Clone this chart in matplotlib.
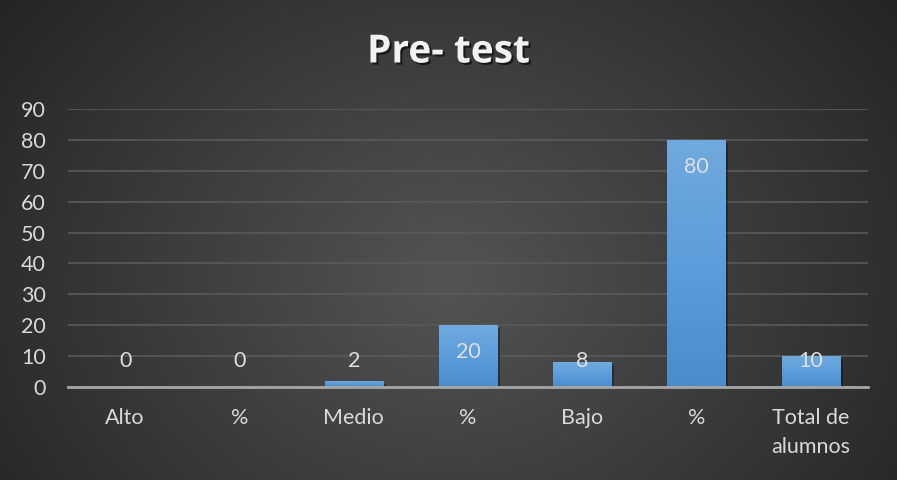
import numpy as np
import matplotlib
matplotlib.use("Agg")
import matplotlib.pyplot as plt
import matplotlib.patheffects as pe
from matplotlib.colors import LinearSegmentedColormap

categories = ["Alto", "%", "Medio", "%", "Bajo", "%", "Total de\nalumnos"]
values = [0, 0, 2, 20, 8, 80, 10]
title = "Pre- test"
yticks = list(range(0, 100, 10))

W, H = 897, 480
fig = plt.figure(figsize=(W / 100, H / 100), dpi=100)

# radial background
bg = fig.add_axes([0, 0, 1, 1], zorder=-10)
yy, xx = np.mgrid[0:H, 0:W]
cx, cy = W * 0.5, H * 0.58
r = np.sqrt(((xx - cx) / (W * 0.62)) ** 2 + ((yy - cy) / (H * 0.95)) ** 2)
r = np.clip(r, 0, 1)
c0 = np.array([0x54, 0x54, 0x54]) / 255
c1 = np.array([0x25, 0x25, 0x25]) / 255
img = c0[None, None, :] * (1 - r[..., None]) + c1[None, None, :] * r[..., None]
bg.imshow(img, extent=[0, 1, 0, 1], aspect="auto", origin="upper")
bg.set_xlim(0, 1)
bg.set_ylim(0, 1)
bg.axis("off")

ax = fig.add_axes([68 / W, 1 - 387 / H, 800 / W, 278 / H])
ax.patch.set_alpha(0)
x = np.arange(len(categories))
bars = ax.bar(x, values, width=0.51, color="#5b9bd5", zorder=3)

cmap = LinearSegmentedColormap.from_list("b", ["#4a8ccc", "#5c9ddb", "#70aade"])
grad = np.linspace(0, 1, 256).reshape(-1, 1)
for b in bars:
    h = b.get_height()
    if h <= 0:
        continue
    x0 = b.get_x()
    w = b.get_width()
    b.set_path_effects([pe.SimplePatchShadow(offset=(2, -2), shadow_rgbFace="black", alpha=0.35), pe.Normal()])
    im = ax.imshow(grad, cmap=cmap, extent=[x0, x0 + w, 0, h], aspect="auto",
                   origin="lower", zorder=4)
    im.set_clip_path(b)

ax.set_xlim(-0.5, len(categories) - 0.5)
ax.set_ylim(0, 90)
ax.set_yticks(yticks)
ax.set_xticks(x)
ax.set_xticklabels(categories)
ax.grid(axis="y", color="#5a5a5a", linewidth=1.2, zorder=0)
ax.set_axisbelow(True)
for s in ["top", "right", "left"]:
    ax.spines[s].set_visible(False)
ax.spines["bottom"].set_color("#a6a6a6")
ax.spines["bottom"].set_linewidth(2)
ax.spines["bottom"].set_zorder(5)
ax.tick_params(axis="both", length=0, colors="#d9d9d9", labelsize=15.5)
ax.tick_params(axis="y", pad=16)
ax.tick_params(axis="x", pad=15)
for lab in ax.get_xticklabels() + ax.get_yticklabels():
    lab.set_fontfamily("Lato")
    lab.set_linespacing(1.55)

for xi, v in zip(x, values):
    ypos = max(v - 8.7, 8.4)
    ax.text(xi, ypos, str(v), ha="center", va="center", color="#e0e0e0",
            fontsize=15.5, family="Lato", zorder=6)

fig.text(0.5, 1 - 52 / H, title, ha="center", va="center", color="#f2f2f2",
         fontsize=28, fontweight="bold", family="Open Sans",
         path_effects=[pe.withSimplePatchShadow(offset=(1.5, -1.5), shadow_rgbFace="black", alpha=0.6)])

fig.savefig("out.png", dpi=100)
